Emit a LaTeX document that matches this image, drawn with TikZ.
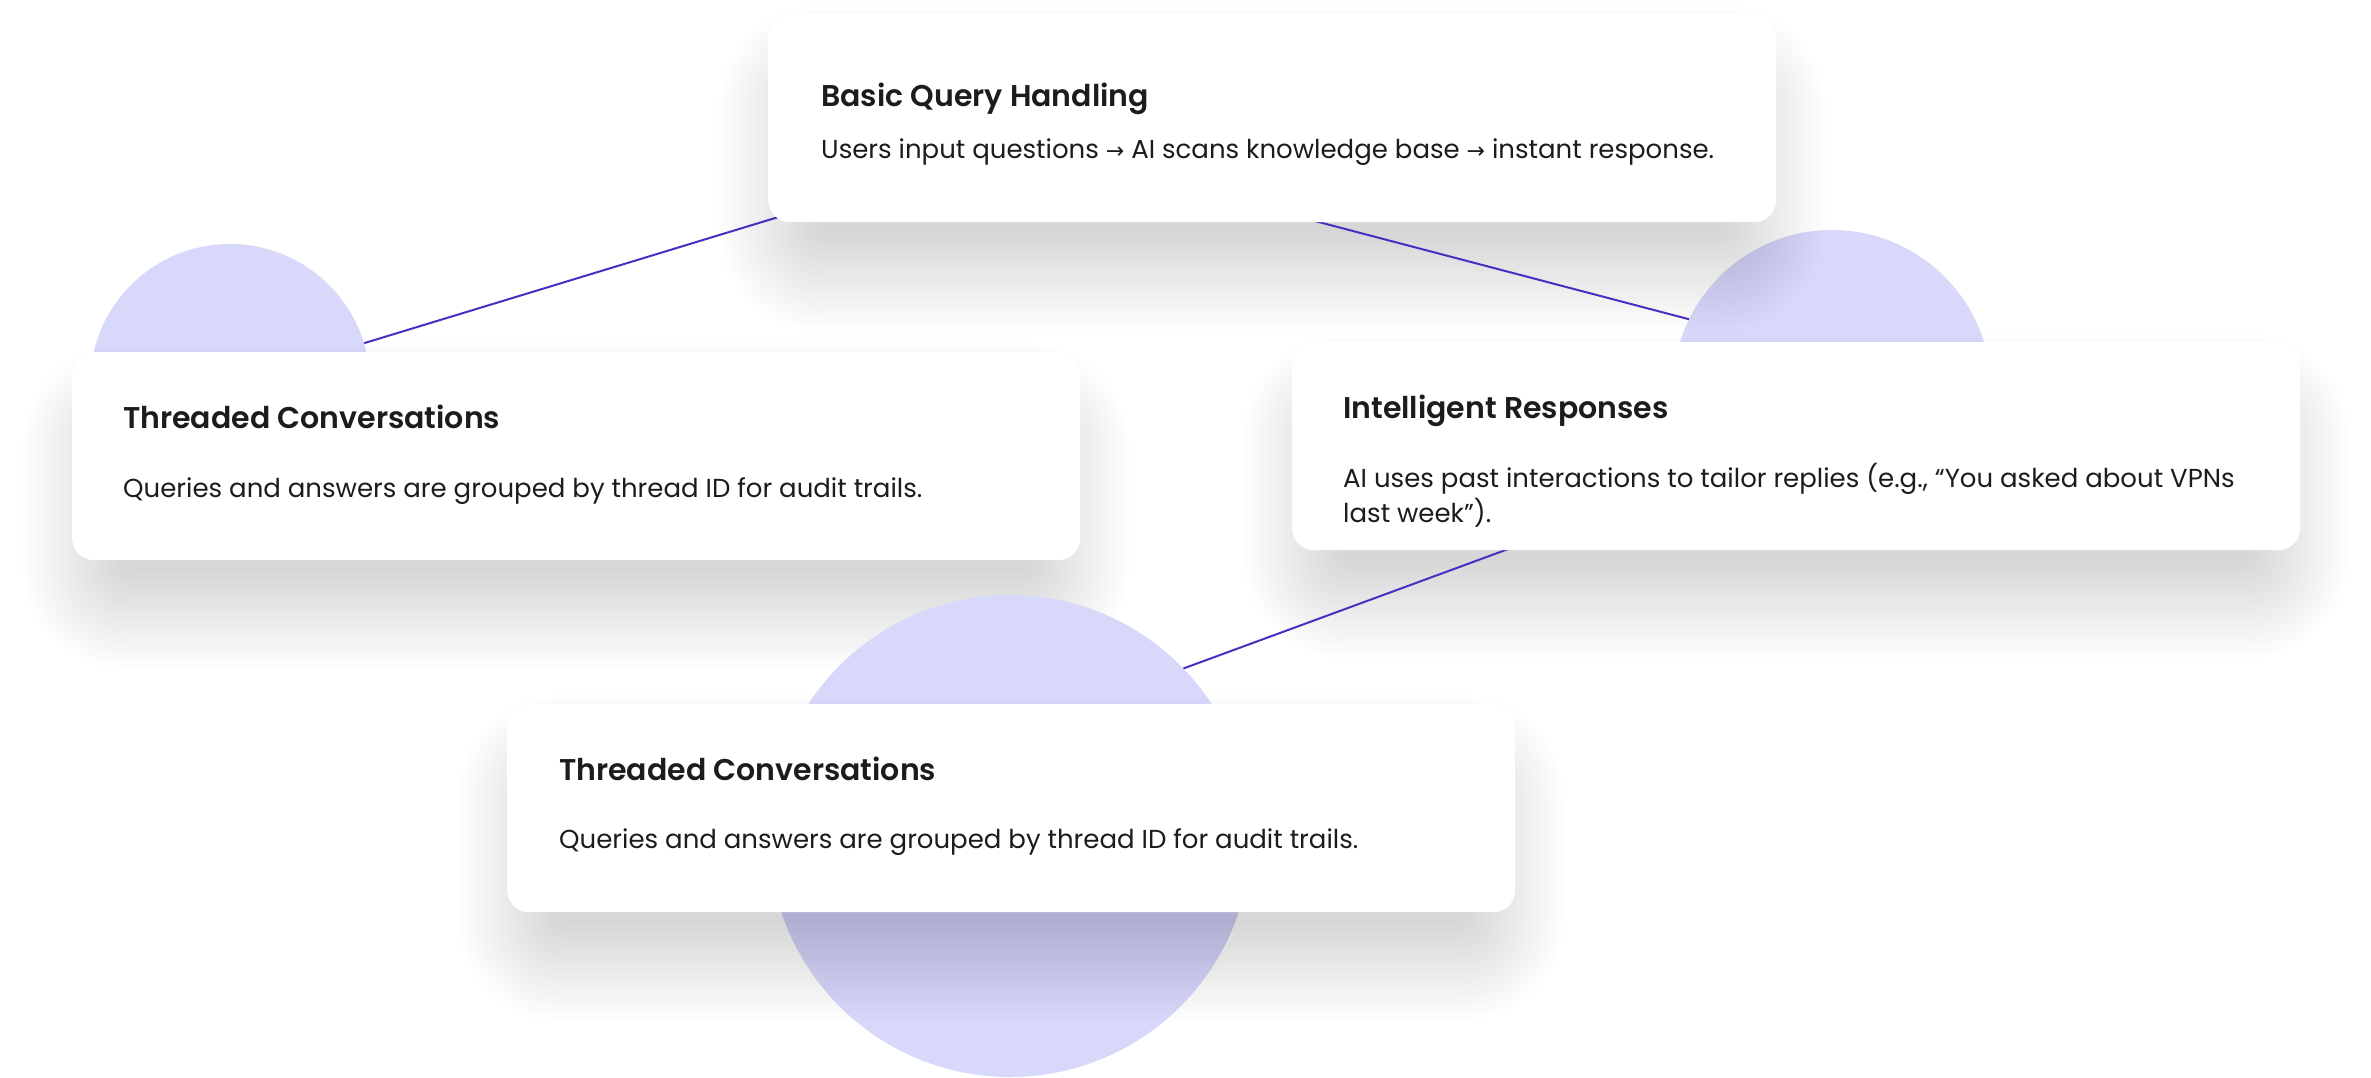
\documentclass[tikz,border=0pt]{standalone}
\usepackage{fontspec}
\setmainfont{Poppins}
\newfontfamily\headfont{Poppins}[UprightFont={* SemiBold}]
\newfontfamily\symfont{DejaVu Sans}

\definecolor{blob}{HTML}{D8D8FA}
\definecolor{link}{HTML}{4A2EC2}
\definecolor{ink}{HTML}{1C1C1E}

% soft drop shadow built from stacked translucent rounded rectangles
\newcommand\cardshadow[4]{%
  \foreach \e in {-40,-37.5,...,60}{%
    \pgfmathsetmacro\ax{#1+10-\e}%
    \pgfmathsetmacro\ay{#2+50-\e}%
    \pgfmathsetmacro\bx{#3-10+\e}%
    \pgfmathsetmacro\by{#4+50+\e}%
    \pgfmathsetmacro\rc{max(12,45+\e)}%
    \fill[shadowlayer, rounded corners=\rc pt] (\ax,\ay) rectangle (\bx,\by);
  }}
\newcommand\arr{{\symfont\fontsize{22}{22}\selectfont →}}

\begin{document}
\begin{tikzpicture}[x=1pt,y=-1pt,
  shadowlayer/.style={black, fill opacity=0.0056},
  card/.style={fill=white, rounded corners=22pt, minimum width=1008pt,
    minimum height=208pt, anchor=north west, inner sep=0pt},
  bubble/.style={circle, fill=blob, inner sep=0pt},
  link/.style={draw=link, line width=2pt},
  heading/.style={anchor=base west, inner sep=0pt, text=ink,
    font=\headfont\fontsize{30}{35}\selectfont},
  body/.style={anchor=base west, inner sep=0pt, text=ink,
    font=\fontsize{26}{35}\selectfont}]

\fill[white] (0,0) rectangle (2371,1078);
\useasboundingbox (0,0) rectangle (2371,1078);

% upper bubbles, under the shadow of the top card
\node[bubble, minimum size=280pt] (c1) at (230,384) {};
\node[bubble, minimum size=318pt] (c2) at (1832,389) {};

% shadows of the upper cards
\cardshadow{768}{14}{1776}{222}
\cardshadow{72}{352}{1080}{560}
\cardshadow{1292}{342}{2300}{550}

% lower bubble, then the shadow of the bottom card over it
\node[bubble, minimum size=482pt] (c3) at (1010,836) {};
\cardshadow{507}{704}{1515}{912}

% connectors: hidden ends sit behind the cards, the other ends on the bubbles
\coordinate (p1a) at (900,180);
\coordinate (p2a) at (1250,204);
\coordinate (p3a) at (1560,530);
\draw[link] (p1a) -- (c1);
\draw[link] (p2a) -- (c2.154);
\draw[link] (p3a) -- (c3.44);

% cards
\node[card] (k1) at (768,14) {};
\node[card] (k2) at (72,352) {};
\node[card] (k3) at (1292,342) {};
\node[card] (k4) at (507,704) {};

% texts
\node[heading] (h1) at (821,107) {Basic Query Handling};
\node[body] (d1) at (821,159) {Users input questions \arr{} AI scans knowledge base \arr{} instant response.};

\node[heading] (h2) at (123,428) {Threaded Conversations};
\node[body] (d2) at (123,497) {Queries and answers are grouped by thread ID for audit trails.};

\node[heading] (h3) at (1343,418) {Intelligent Responses};
\node[body] (d3a) at (1343,487) {AI uses past interactions to tailor replies (e.g., “You asked about VPNs};
\node[body] (d3b) at (1343,522) {last week”).};

\node[heading] (h4) at (559,780) {Threaded Conversations};
\node[body] (d4) at (559,848) {Queries and answers are grouped by thread ID for audit trails.};
\end{tikzpicture}
\end{document}
